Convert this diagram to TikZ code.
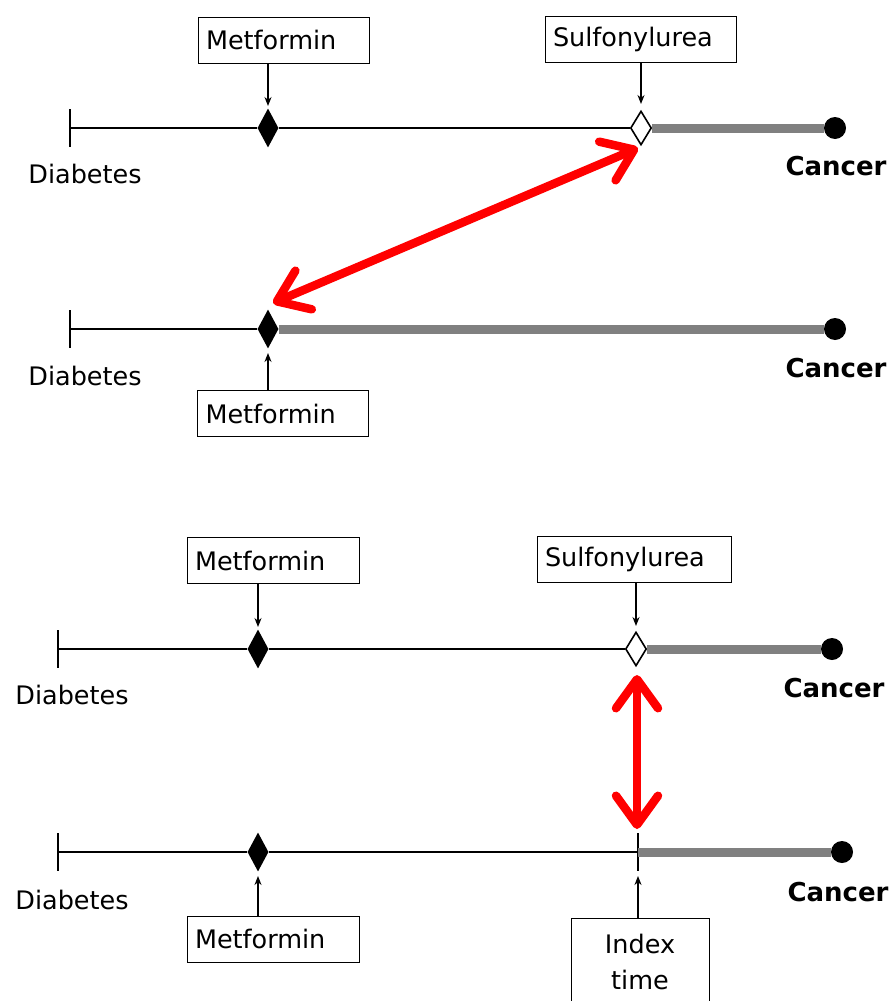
\documentclass[tikz,border=0pt]{standalone}
\usepackage{fontspec}
\setmainfont{DejaVu Sans}
\usetikzlibrary{arrows.meta,shapes.geometric}
\tikzset{
  lbl/.style={font=\fontsize{25.5}{30}\selectfont},
  ca/.style={font=\fontsize{26}{30}\selectfont\bfseries},
  drug/.style={draw,line width=1pt,align=left,inner xsep=8pt,minimum height=46pt,text width=#1,font=\fontsize{25.5}{30}\selectfont},
  fdiam/.style={diamond,fill=black,inner sep=0pt,minimum width=21pt,minimum height=39pt},
  odiam/.style={diamond,draw,fill=white,line width=1.6pt,inner sep=0pt,minimum width=21pt,minimum height=34pt},
  endpt/.style={circle,fill=black,inner sep=0pt,minimum size=22pt},
  tl/.style={line width=2.8pt},
  fu/.style={line width=9pt,color=gray},
  rarr/.style={red,line width=8.5pt,{Straight Barb[round,length=29pt,width=42pt]}-{Straight Barb[round,length=29pt,width=42pt]}}
}
\begin{document}
\begin{tikzpicture}[x=1pt,y=-1pt,>={Stealth[length=9pt,width=7pt]}]
\useasboundingbox (0,0) rectangle (894,1001);
% first pair
\coordinate (d1) at (70,128);
\node[fdiam] (m1) at (268,128) {};
\node[odiam] (s1) at (641,128) {};
\node[endpt] (c1) at (835,128) {};
\draw[tl] (d1)++(0,-19)--++(0,38);
\draw[tl] (d1)--(m1)--(s1.west);
\draw[fu] (s1.east)--(c1);
\node[lbl] at (85,174) {Diabetes};
\node[ca] at (836,166) {Cancer};
\node[drug=155pt] (bm1) at (283.5,40) {Metformin};
\node[drug=175pt] (bs1) at (640.5,39.5) {Sulfonylurea};
\draw[->,line width=1.4pt] (bm1.south-|m1)--(268,106);
\draw[->,line width=1.4pt] (bs1.south-|s1)--(641,104);

\coordinate (d2) at (70,329);
\node[fdiam] (m2) at (268,329) {};
\node[endpt] (c2) at (835,329) {};
\draw[tl] (d2)++(0,-19)--++(0,38);
\draw[tl] (d2)--(m2);
\draw[fu] (m2.east)--(c2);
\node[lbl] at (85,376) {Diabetes};
\node[ca] at (836,368) {Cancer};
\node[drug=155pt] (bm2) at (283,413.5) {Metformin};
\draw[->,line width=1.4pt] (bm2.north-|m2)--(268,353);

\coordinate (ra) at (638,148);
\coordinate (rb) at (273,303);
\draw[rarr] (ra)--(rb);

% second pair
\coordinate (d3) at (58,649);
\node[fdiam] (m3) at (258,649) {};
\node[odiam] (s3) at (636,649) {};
\node[endpt] (c3) at (832,649) {};
\draw[tl] (d3)++(0,-19)--++(0,38);
\draw[tl] (d3)--(m3)--(s3.west);
\draw[fu] (s3.east)--(c3);
\node[lbl] at (72,695) {Diabetes};
\node[ca] at (834,688) {Cancer};
\node[drug=156pt] (bm3) at (273,560.5) {Metformin};
\node[drug=178pt] (bs3) at (634,559.5) {Sulfonylurea};
\draw[->,line width=1.4pt] (bm3.south-|m3)--(258,627);
\draw[->,line width=1.4pt] (bs3.south-|s3)--(636,626);

\coordinate (d4) at (58,852);
\node[fdiam] (m4) at (258,852) {};
\coordinate (ix) at (638,852);
\node[endpt] (c4) at (842,852) {};
\draw[tl] (d4)++(0,-19)--++(0,38);
\draw[tl] (ix)++(0,-19)--++(0,38);
\draw[tl] (d4)--(m4)--(ix);
\draw[fu] (ix)--(c4);
\node[lbl] at (72,900) {Diabetes};
\node[ca] at (838,892) {Cancer};
\node[drug=156pt] (bm4) at (273,939) {Metformin};
\node[draw,line width=1pt,align=center,minimum width=138pt,minimum height=88pt,font=\fontsize{25.5}{36}\selectfont] (bix) at (640,962) {Index\\time};
\draw[->,line width=1.4pt] (bm4.north-|m4)--(258,876);
\draw[->,line width=1.4pt] (bix.north-|ix)--(638,876);

\coordinate (rc) at (637,675);
\coordinate (rd) at (637,829);
\draw[rarr] (rc)--(rd);
\end{tikzpicture}
\end{document}
